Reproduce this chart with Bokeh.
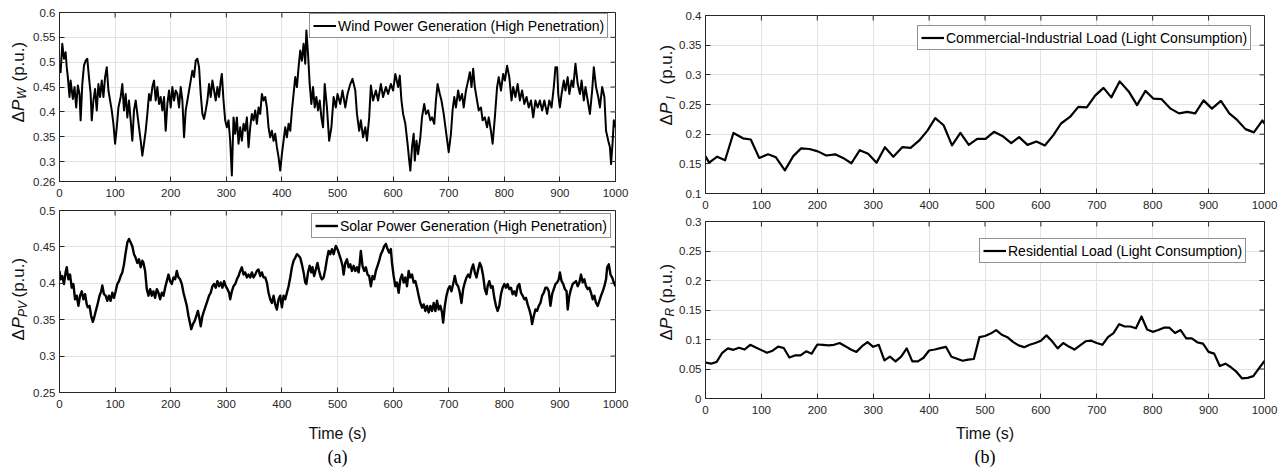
import numpy as np
from bokeh.plotting import figure
from bokeh.layouts import row, column
from bokeh.models import (Legend, LegendItem, Label, FixedTicker,
                          CustomJSTickFormatter, Range1d, Title)
from bokeh.embed import file_html
from bokeh.resources import INLINE

# ---------------- data ----------------
wind_t = [0, 2, 5, 8, 11, 13, 15, 18, 20, 24, 27, 30, 33, 36, 38, 41, 44, 47, 50, 53, 56, 58, 61, 64, 67, 70,
          73, 76, 79, 82, 85, 88, 91, 94, 97, 100, 103, 106, 110, 113, 116, 119, 122, 125, 128, 131, 134, 137,
          140, 143, 146, 149, 152, 155, 158, 161, 164, 167, 170, 173, 176, 179, 182, 185, 188, 191, 194, 197,
          200, 203, 206, 209, 212, 215, 218, 221, 224, 227, 230, 233, 236, 239, 242, 245, 248, 251, 254, 257,
          260, 263, 266, 269, 272, 275, 278, 281, 284, 287, 290, 292, 295, 298, 301, 304, 307, 310, 313, 316,
          319, 322, 325, 328, 331, 334, 337, 340, 343, 346, 349, 352, 355, 358, 361, 364, 367, 370, 373, 376,
          379, 382, 385, 388, 391, 394, 397, 400, 403, 406, 409, 412, 415, 418, 421, 424, 427, 430, 433, 436,
          439, 442, 444, 447, 450, 453, 456, 459, 462, 465, 468, 471, 474, 477, 481, 485, 489, 493, 497, 500,
          505, 509, 514, 518, 523, 527, 532, 535, 539, 542, 546, 550, 553, 557, 560, 564, 569, 573, 578, 582,
          587, 591, 596, 600, 604, 609, 612, 615, 618, 622, 626, 629, 631, 634, 637, 639, 642, 645, 649, 652,
          656, 659, 663, 667, 670, 674, 677, 680, 684, 687, 691, 695, 698, 700, 704, 707, 710, 713, 717, 720,
          724, 727, 731, 735, 738, 741, 744, 747, 751, 754, 758, 761, 765, 769, 772, 776, 779, 783, 787, 790,
          794, 798, 801, 805, 809, 813, 816, 820, 824, 828, 832, 836, 840, 844, 848, 852, 856, 860, 864, 868,
          872, 877, 881, 885, 889, 892, 895, 897, 900, 903, 907, 910, 914, 917, 921, 924, 928, 932, 936, 939,
          943, 946, 950, 954, 958, 961, 965, 969, 972, 976, 980, 983, 987, 990, 992, 995, 997, 1000]
wind_p = [0.497, 0.480, 0.537, 0.507, 0.520, 0.490, 0.470, 0.430, 0.463, 0.426, 0.450, 0.409, 0.453, 0.436,
          0.383, 0.456, 0.493, 0.503, 0.507, 0.470, 0.436, 0.383, 0.423, 0.446, 0.403, 0.456, 0.430, 0.463,
          0.430, 0.470, 0.490, 0.443, 0.423, 0.403, 0.376, 0.336, 0.369, 0.409, 0.430, 0.456, 0.403, 0.436,
          0.389, 0.423, 0.383, 0.342, 0.403, 0.423, 0.396, 0.369, 0.342, 0.312, 0.336, 0.362, 0.396, 0.436,
          0.423, 0.450, 0.463, 0.423, 0.450, 0.416, 0.430, 0.403, 0.430, 0.362, 0.416, 0.443, 0.409, 0.450,
          0.423, 0.443, 0.436, 0.409, 0.450, 0.423, 0.349, 0.403, 0.423, 0.443, 0.463, 0.483, 0.470, 0.503,
          0.507, 0.490, 0.436, 0.396, 0.386, 0.403, 0.423, 0.456, 0.430, 0.463, 0.443, 0.423, 0.450, 0.430,
          0.463, 0.4765, 0.423, 0.383, 0.369, 0.383, 0.342, 0.272, 0.389, 0.356, 0.389, 0.336, 0.369, 0.342,
          0.376, 0.362, 0.389, 0.329, 0.369, 0.396, 0.383, 0.403, 0.376, 0.409, 0.396, 0.436, 0.423, 0.430,
          0.409, 0.369, 0.349, 0.362, 0.342, 0.356, 0.329, 0.309, 0.282, 0.315, 0.342, 0.369, 0.349, 0.376,
          0.362, 0.403, 0.436, 0.470, 0.450, 0.490, 0.5235, 0.503, 0.537, 0.497, 0.564, 0.517, 0.456, 0.416,
          0.450, 0.409, 0.430, 0.403, 0.423, 0.389, 0.369, 0.456, 0.409, 0.342, 0.369, 0.430, 0.409, 0.436,
          0.416, 0.443, 0.409, 0.436, 0.456, 0.4665, 0.443, 0.396, 0.362, 0.383, 0.349, 0.369, 0.342, 0.389,
          0.453, 0.423, 0.443, 0.423, 0.456, 0.430, 0.450, 0.436, 0.456, 0.443, 0.4765, 0.450, 0.473, 0.423,
          0.396, 0.376, 0.336, 0.302, 0.282, 0.329, 0.356, 0.302, 0.342, 0.315, 0.349, 0.389, 0.416, 0.396,
          0.403, 0.383, 0.389, 0.376, 0.423, 0.456, 0.436, 0.423, 0.396, 0.362, 0.336, 0.319, 0.356, 0.403,
          0.430, 0.409, 0.443, 0.423, 0.436, 0.409, 0.443, 0.463, 0.480, 0.450, 0.487, 0.450, 0.423, 0.403,
          0.409, 0.383, 0.389, 0.369, 0.389, 0.362, 0.336, 0.389, 0.450, 0.470, 0.443, 0.4765, 0.463, 0.493,
          0.470, 0.423, 0.450, 0.430, 0.456, 0.423, 0.443, 0.416, 0.430, 0.409, 0.423, 0.389, 0.423, 0.409,
          0.423, 0.403, 0.423, 0.396, 0.423, 0.409, 0.450, 0.490, 0.490, 0.436, 0.409, 0.436, 0.463, 0.443,
          0.470, 0.436, 0.463, 0.450, 0.497, 0.456, 0.436, 0.463, 0.423, 0.450, 0.423, 0.396, 0.443, 0.490,
          0.450, 0.430, 0.409, 0.450, 0.430, 0.362, 0.342, 0.329, 0.295, 0.342, 0.383, 0.369]

solar_t = [0, 2, 5, 8, 11, 13, 16, 19, 22, 25, 28, 31, 34, 37, 40, 43, 46, 49, 51, 54, 57, 60, 63, 66, 69, 72,
           75, 77, 80, 83, 86, 89, 92, 95, 98, 101, 104, 107, 110, 113, 116, 119, 122, 125, 128, 131, 134, 137,
           140, 143, 146, 149, 151, 154, 157, 160, 163, 166, 169, 172, 175, 178, 181, 184, 187, 190, 193, 196,
           199, 202, 205, 208, 211, 214, 217, 220, 223, 226, 229, 232, 235, 237, 240, 243, 246, 249, 252, 254,
           257, 260, 263, 266, 269, 272, 275, 278, 281, 284, 287, 290, 293, 296, 299, 302, 305, 307, 310, 313,
           316, 319, 322, 325, 328, 331, 334, 337, 340, 343, 346, 349, 352, 355, 358, 361, 364, 367, 370, 373,
           376, 379, 382, 385, 388, 391, 394, 397, 400, 403, 406, 409, 412, 415, 418, 421, 424, 427, 430, 433,
           436, 439, 442, 444, 447, 450, 453, 455, 458, 461, 464, 467, 470, 472, 475, 478, 481, 484, 487, 490,
           493, 497, 500, 503, 506, 509, 511, 514, 517, 520, 523, 526, 529, 532, 535, 538, 540, 542, 545, 548,
           551, 554, 557, 560, 563, 566, 569, 572, 575, 578, 581, 584, 587, 590, 593, 596, 598, 601, 604, 607,
           610, 613, 616, 619, 622, 625, 628, 631, 634, 637, 640, 643, 646, 649, 652, 655, 658, 661, 664, 667,
           670, 673, 676, 679, 682, 685, 688, 690, 693, 696, 699, 702, 705, 708, 711, 714, 717, 720, 723, 726,
           729, 732, 735, 738, 741, 744, 747, 750, 753, 756, 759, 762, 765, 768, 770, 773, 776, 779, 782, 785,
           788, 791, 794, 797, 800, 803, 806, 809, 812, 815, 818, 821, 824, 827, 830, 833, 836, 839, 842, 845,
           848, 850, 853, 856, 859, 862, 865, 868, 871, 874, 877, 880, 883, 886, 889, 892, 895, 898, 900, 903,
           906, 909, 912, 914, 917, 920, 923, 926, 929, 932, 935, 938, 941, 944, 947, 950, 953, 956, 959, 962,
           965, 968, 971, 974, 977, 980, 983, 985, 988, 991, 994, 997, 1000]
solar_p = [0.417, 0.4055, 0.410, 0.399, 0.415, 0.422, 0.4055, 0.412, 0.394, 0.399, 0.378, 0.383, 0.369, 0.383,
           0.389, 0.378, 0.385, 0.371, 0.367, 0.369, 0.355, 0.347, 0.355, 0.364, 0.373, 0.383, 0.389, 0.397,
           0.385, 0.383, 0.376, 0.383, 0.376, 0.387, 0.380, 0.389, 0.399, 0.403, 0.410, 0.415, 0.426, 0.442,
           0.456, 0.461, 0.456, 0.451, 0.440, 0.435, 0.428, 0.433, 0.422, 0.431, 0.428, 0.417, 0.392, 0.383,
           0.392, 0.383, 0.389, 0.380, 0.392, 0.387, 0.378, 0.387, 0.383, 0.394, 0.403, 0.412, 0.403, 0.399,
           0.408, 0.4055, 0.417, 0.408, 0.4055, 0.399, 0.387, 0.378, 0.369, 0.355, 0.344, 0.337, 0.344, 0.348,
           0.355, 0.362, 0.3505, 0.341, 0.355, 0.362, 0.369, 0.376, 0.383, 0.387, 0.396, 0.399, 0.394, 0.403,
           0.396, 0.401, 0.394, 0.403, 0.396, 0.392, 0.387, 0.378, 0.389, 0.396, 0.399, 0.4055, 0.410, 0.417,
           0.422, 0.412, 0.415, 0.408, 0.412, 0.408, 0.415, 0.408, 0.412, 0.417, 0.419, 0.410, 0.415, 0.408,
           0.408, 0.401, 0.387, 0.378, 0.373, 0.383, 0.371, 0.364, 0.378, 0.383, 0.367, 0.383, 0.378, 0.387,
           0.396, 0.408, 0.422, 0.431, 0.435, 0.440, 0.438, 0.435, 0.426, 0.415, 0.401, 0.399, 0.415, 0.424,
           0.415, 0.422, 0.410, 0.419, 0.428, 0.417, 0.408, 0.4055, 0.4078, 0.419, 0.433, 0.4445, 0.440, 0.4468,
           0.440, 0.4514, 0.4468, 0.440, 0.433, 0.424, 0.412, 0.428, 0.433, 0.422, 0.426, 0.417, 0.424, 0.417,
           0.422, 0.415, 0.428, 0.4445, 0.424, 0.417, 0.422, 0.412, 0.410, 0.396, 0.410, 0.4055, 0.417, 0.424,
           0.431, 0.440, 0.4445, 0.451, 0.454, 0.447, 0.442, 0.447, 0.428, 0.410, 0.396, 0.401, 0.387, 0.4055,
           0.412, 0.401, 0.408, 0.396, 0.417, 0.408, 0.412, 0.401, 0.403, 0.394, 0.383, 0.373, 0.3665, 0.371,
           0.362, 0.369, 0.360, 0.369, 0.362, 0.373, 0.362, 0.376, 0.364, 0.369, 0.360, 0.346, 0.369, 0.383,
           0.392, 0.396, 0.389, 0.399, 0.410, 0.399, 0.396, 0.387, 0.373, 0.392, 0.401, 0.408, 0.412, 0.408,
           0.419, 0.426, 0.415, 0.408, 0.419, 0.428, 0.422, 0.410, 0.392, 0.385, 0.396, 0.403, 0.394, 0.396,
           0.380, 0.369, 0.362, 0.369, 0.385, 0.394, 0.399, 0.394, 0.399, 0.392, 0.394, 0.385, 0.389, 0.383,
           0.396, 0.399, 0.387, 0.383, 0.378, 0.380, 0.371, 0.364, 0.355, 0.344, 0.355, 0.364, 0.362, 0.369,
           0.373, 0.383, 0.387, 0.394, 0.394, 0.389, 0.369, 0.385, 0.392, 0.399, 0.401, 0.4055, 0.415, 0.403,
           0.399, 0.392, 0.389, 0.364, 0.383, 0.392, 0.399, 0.401, 0.403, 0.396, 0.401, 0.412, 0.401, 0.4055,
           0.396, 0.392, 0.394, 0.387, 0.378, 0.383, 0.373, 0.369, 0.376, 0.383, 0.389, 0.396, 0.4055, 0.422,
           0.426, 0.412, 0.408, 0.401, 0.396]

ci_t = [0, 6.5, 21, 35, 50, 67, 81, 96, 112, 126, 142, 157, 171, 186, 201, 216, 232, 246, 261, 276, 291, 306,
        321, 336, 352, 367, 382, 397, 411, 426, 441, 456, 471, 486, 501, 516, 531, 547, 561, 576, 592, 607,
        622, 636, 652, 667, 682, 697, 712, 726, 741, 757, 772, 787, 801, 816, 832, 847, 862, 876, 891, 906,
        922, 937, 951, 966, 981, 996, 1000]
ci_p = [0.1625, 0.152, 0.162, 0.156, 0.202, 0.193, 0.191, 0.160, 0.166, 0.161, 0.139, 0.163, 0.176, 0.175,
        0.171, 0.164, 0.166, 0.160, 0.151, 0.173, 0.167, 0.152, 0.178, 0.162, 0.178, 0.177, 0.189, 0.206,
        0.227, 0.215, 0.181, 0.202, 0.182, 0.192, 0.192, 0.204, 0.197, 0.185, 0.195, 0.182, 0.1875, 0.181,
        0.198, 0.218, 0.229, 0.246, 0.245, 0.265, 0.278, 0.262, 0.289, 0.272, 0.249, 0.273, 0.260, 0.259,
        0.243, 0.235, 0.2375, 0.235, 0.257, 0.243, 0.256, 0.235, 0.224, 0.2085, 0.203, 0.223, 0.218]

res_t = [0, 10, 20, 30, 40, 50, 60, 70, 80, 90, 100, 110, 120, 130, 140, 150, 160, 170, 180, 190, 200, 210,
         220, 230, 240, 250, 260, 270, 280, 290, 300, 310, 320, 330, 340, 350, 360, 370, 380, 390, 400, 410,
         420, 430, 440, 450, 460, 470, 480, 490, 500, 510, 520, 530, 540, 550, 560, 570, 580, 590, 600, 610,
         620, 630, 640, 650, 660, 670, 680, 690, 700, 710, 720, 730, 740, 750, 760, 770, 780, 790, 800, 810,
         820, 830, 840, 850, 860, 870, 880, 890, 900, 910, 920, 930, 940, 950, 960, 970, 980, 990, 1000]
res_p = [0.061, 0.059, 0.062, 0.0775, 0.085, 0.0825, 0.086, 0.083, 0.091, 0.0865, 0.082, 0.0775, 0.081, 0.088,
         0.0855, 0.0695, 0.073, 0.073, 0.080, 0.076, 0.0915, 0.091, 0.090, 0.091, 0.094, 0.0887, 0.083, 0.079,
         0.0887, 0.0955, 0.0876, 0.091, 0.0645, 0.071, 0.063, 0.071, 0.085, 0.063, 0.063, 0.069, 0.0814, 0.083,
         0.0853, 0.0876, 0.0707, 0.0673, 0.064, 0.066, 0.067, 0.104, 0.106, 0.110, 0.116, 0.108, 0.104, 0.096,
         0.090, 0.087, 0.091, 0.094, 0.098, 0.107, 0.097, 0.085, 0.094, 0.088, 0.083, 0.090, 0.097, 0.098,
         0.094, 0.091, 0.104, 0.111, 0.126, 0.122, 0.122, 0.119, 0.139, 0.117, 0.113, 0.116, 0.120, 0.120,
         0.111, 0.116, 0.102, 0.102, 0.095, 0.093, 0.079, 0.076, 0.055, 0.059, 0.053, 0.045, 0.034, 0.035,
         0.038, 0.051, 0.0635]

x_ticks = [0, 100, 200, 300, 400, 500, 600, 700, 800, 900, 1000]
wind_yticks = [0.26, 0.3, 0.35, 0.4, 0.45, 0.5, 0.55, 0.6]
solar_yticks = [0.25, 0.3, 0.35, 0.4, 0.45, 0.5]
ci_yticks = [0.1, 0.15, 0.2, 0.25, 0.3, 0.35, 0.4]
res_yticks = [0, 0.05, 0.1, 0.15, 0.2, 0.25, 0.3]

# ---------------- styling ----------------
FONT = "Liberation Sans"
SERIF = "Liberation Serif"
AX = "#262626"
GRID = "#e3e3e3"
FMT = "return Number(tick.toFixed(2)).toString();"


def make_fig(width, height, bl, br, bt, bb, yr, yticks, xlabel=None, xlabel_standoff=10, caption=None):
    p = figure(width=width, height=height, x_range=Range1d(0, 1000), y_range=Range1d(*yr),
               output_backend="svg", toolbar_location=None,
               min_border_left=bl, min_border_right=br, min_border_top=bt, min_border_bottom=bb)
    p.outline_line_color = AX
    p.outline_line_alpha = 1
    p.xaxis.ticker = FixedTicker(ticks=x_ticks)
    p.yaxis.ticker = FixedTicker(ticks=yticks)
    p.xgrid.ticker = FixedTicker(ticks=x_ticks)
    p.ygrid.ticker = FixedTicker(ticks=yticks)
    for ax in (p.xaxis[0], p.yaxis[0]):
        ax.formatter = CustomJSTickFormatter(code=FMT)
        ax.major_tick_in = 5
        ax.major_tick_out = 0
        ax.minor_tick_line_color = None
        ax.axis_line_color = AX
        ax.major_tick_line_color = AX
        ax.major_label_text_font = FONT
        ax.major_label_text_font_size = "11.5px"
        ax.major_label_text_color = AX
    p.xaxis[0].major_label_standoff = 7
    p.yaxis[0].major_label_standoff = 4
    if xlabel:
        p.xaxis[0].axis_label = xlabel
        p.xaxis[0].axis_label_text_font = FONT
        p.xaxis[0].axis_label_text_font_size = "16px"
        p.xaxis[0].axis_label_text_font_style = "normal"
        p.xaxis[0].axis_label_text_color = "#111111"
        p.xaxis[0].axis_label_standoff = xlabel_standoff
    if caption:
        p.title = Title(text=caption, align="center", text_font=SERIF, text_font_size="18px",
                        text_font_style="normal", text_color="#000000", standoff=0, offset=0)
        p.title_location = "below"
    p.grid.grid_line_color = GRID
    p.grid.grid_line_width = 1
    # inward tick marks on the top and right edges of the box
    n = len(x_ticks)
    p.ray(x=x_ticks, y=[yr[1]] * n, length=5, angle=-np.pi / 2, length_units="screen",
          line_color=AX, line_width=1)
    m = len(yticks)
    p.ray(x=[1000] * m, y=yticks, length=5, angle=np.pi, length_units="screen",
          line_color=AX, line_width=1)
    return p


def add_series(p, t, v, label, loc, lw):
    r = p.line(t, v, line_color="black", line_width=lw, line_join="round")
    lg = Legend(items=[LegendItem(label=label, renderers=[r])], location=loc)
    lg.label_text_font = FONT
    lg.label_text_font_size = "14px"
    lg.label_text_color = "#000000"
    lg.glyph_width = 23
    lg.glyph_height = 17
    lg.label_height = 17
    lg.label_standoff = 2
    lg.padding = 3
    lg.spacing = 0
    lg.margin = 0
    lg.border_line_color = AX
    lg.border_line_width = 1
    lg.background_fill_color = "white"
    lg.background_fill_alpha = 1
    p.add_layout(lg)


def make_strip(x0, x1, labels):
    """Narrow figure whose frame fills it; data units equal page pixels."""
    s = figure(width=x1 - x0, height=468, x_range=Range1d(x0, x1), y_range=Range1d(468, 0),
               output_backend="svg", toolbar_location=None, x_axis_location=None,
               y_axis_location=None, min_border=0)
    s.outline_line_color = None
    s.grid.visible = False
    for x_mid, pieces in labels:
        for txt, py, size, italic, shift in pieces:
            s.add_layout(Label(x=x_mid + shift, y=py, text=txt, angle=np.pi / 2,
                               text_align="left", text_baseline="middle",
                               text_font=FONT, text_font_size=f"{size}px",
                               text_font_style="italic" if italic else "normal",
                               text_color="#111111"))
    return s


# Left column figures: page x 30..648, frames 57..615
pA1 = make_fig(618, 203, 27, 33, 12, 22, (0.26, 0.6), wind_yticks)
add_series(pA1, wind_t, wind_p, "Wind Power Generation (High Penetration)", (250, 143), 2.0)

pA2 = make_fig(618, 265, 27, 33, 7, 76, (0.25, 0.5), solar_yticks, "Time (s)", 14, "(a)")
add_series(pA2, solar_t, solar_p, "Solar Power Generation (High Penetration)", (252, 154), 2.4)

# Right column figures: page x 676..1287, frames 704..1264
pB1 = make_fig(611, 214, 28, 23, 15, 21, (0.1, 0.4), ci_yticks)
add_series(pB1, ci_t, ci_p, "Commercial-Industrial Load (Light Consumption)", (212, 143), 2.2)

pB2 = make_fig(611, 254, 28, 23, 7, 70, (0, 0.3), res_yticks, "Time (s)", 8, "(b)")
add_series(pB2, res_t, res_p, "Residential Load (Light Consumption)", (274, 135), 2.2)

# y-axis titles with italic P and subscripts, drawn as real text
stripL = make_strip(0, 30, [
    (17.5, [("\u0394", 122, 17, False, 0), ("P", 110.5, 17, True, 0), ("W", 98.5, 12, True, 4),
            ("(p.u.)", 81, 17, False, 0)]),
    (18, [("\u0394", 340, 17, False, 0), ("P", 328, 17, True, 0), ("PV", 316.5, 12, True, 4),
          ("(p.u.)", 297, 17, False, 0)]),
])
stripR = make_strip(648, 676, [
    (666, [("\u0394", 125, 17, False, 0), ("P", 113.5, 17, True, 0), ("I", 99, 12, True, 4),
           ("(p.u.)", 84, 17, False, 0)]),
    (665.5, [("\u0394", 340, 17, False, 0), ("P", 328.5, 17, True, 0), ("R", 316, 12, True, 4),
             ("(p.u.)", 303, 17, False, 0)]),
])

layout = row(stripL, column(pA1, pA2), stripR, column(pB1, pB2))
open("out.html", "w").write(file_html(layout, INLINE))
